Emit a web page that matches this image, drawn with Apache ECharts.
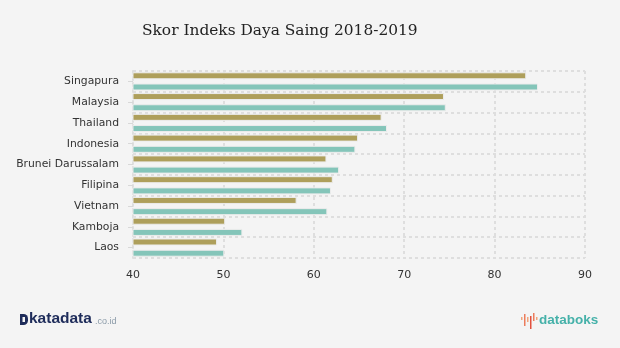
<!DOCTYPE html>
<html>
<head>
<meta charset="utf-8">
<script src="https://cdn.jsdelivr.net/npm/echarts@6/dist/echarts.min.js"></script>
<style>
  html, body { margin: 0; padding: 0; background: #f4f4f4; }
  #chart { width: 620px; height: 348px; }
</style>
</head>
<body>
<div id="chart"></div>
<script>
// Competitiveness index scores, ASEAN countries
const countries = ['Singapura', 'Malaysia', 'Thailand', 'Indonesia', 'Brunei Darussalam', 'Filipina', 'Vietnam', 'Kamboja', 'Laos'];
const score2018 = [83.5, 74.4, 67.5, 64.9, 61.4, 62.1, 58.1, 50.2, 49.3];
const score2019 = [84.8, 74.6, 68.1, 64.6, 62.8, 61.9, 61.5, 52.1, 50.1];
const xTicks = [40, 50, 60, 70, 80, 90];

const gridLine = { color: '#dedede', width: 2, type: [3, 3] };

const chart = echarts.init(document.getElementById('chart'), null, { renderer: 'canvas' });
chart.setOption({
  backgroundColor: '#f4f4f4',
  animation: false,
  title: {
    text: 'Skor Indeks Daya Saing 2018-2019',
    left: 137,
    top: 18,
    textStyle: { fontFamily: 'DejaVu Serif', fontWeight: 'normal', fontSize: 15.4, color: '#222' }
  },
  grid: { left: 133, right: 35, top: 71, bottom: 90 },
  xAxis: {
    type: 'value',
    min: xTicks[0],
    max: xTicks[xTicks.length - 1],
    interval: 10,
    axisLine: { show: false },
    axisTick: { show: false },
    axisLabel: { fontFamily: 'DejaVu Sans', fontSize: 11, color: '#333', margin: 12 },
    splitLine: { show: true, lineStyle: gridLine }
  },
  yAxis: {
    type: 'category',
    data: countries,
    inverse: true,
    axisLine: { show: true, lineStyle: gridLine },
    axisTick: { show: true, alignWithLabel: true, length: 5, lineStyle: { color: '#d8d8d8', width: 1 } },
    axisLabel: { fontFamily: 'DejaVu Sans', fontSize: 10.8, color: '#333', margin: 14 },
    splitLine: { show: true, lineStyle: gridLine }
  },
  series: [
    {
      name: '2018',
      type: 'bar',
      data: score2018,
      barWidth: 7,
      barGap: '60%',
      itemStyle: { color: '#ae9f5b', borderColor: '#ececec', borderWidth: 1 }
    },
    {
      name: '2019',
      type: 'bar',
      data: score2019,
      barWidth: 7,
      barGap: '60%',
      itemStyle: { color: '#84c5b9', borderColor: '#ececec', borderWidth: 1 }
    }
  ],
  graphic: [
    // katadata mark: a blocky "D"
    { type: 'rect', left: 20, top: 314, shape: { width: 8, height: 11, r: [0, 4.5, 4.5, 0] }, style: { fill: '#1e2c5a' } },
    { type: 'rect', left: 22.5, top: 317, shape: { width: 2.5, height: 5 }, style: { fill: '#f4f4f4' } },
    { type: 'text', left: 29, top: 311, style: { text: 'katadata', font: 'bold 15.5px "Liberation Sans"', fill: '#1e2c5a' } },
    { type: 'text', left: 95, top: 317, style: { text: '.co.id', font: '9px "Liberation Sans"', fill: '#8a9aa8' } },
    // databoks mark: small bars
    { type: 'rect', left: 521, top: 317, shape: { width: 1.5, height: 3 }, style: { fill: '#f2a47a' } },
    { type: 'rect', left: 524, top: 314, shape: { width: 1.5, height: 12 }, style: { fill: '#ec7c5c' } },
    { type: 'rect', left: 527, top: 317, shape: { width: 1.5, height: 5 }, style: { fill: '#f2a47a' } },
    { type: 'rect', left: 530, top: 316, shape: { width: 1.5, height: 13 }, style: { fill: '#e2503e' } },
    { type: 'rect', left: 533, top: 313, shape: { width: 1.5, height: 8 }, style: { fill: '#ec7c5c' } },
    { type: 'rect', left: 536, top: 317, shape: { width: 1.5, height: 3 }, style: { fill: '#f2a47a' } },
    { type: 'text', left: 539, top: 313, style: { text: 'databoks', font: 'bold 13.5px "Liberation Sans"', fill: '#45b1a9' } }
  ]
});
</script>
</body>
</html>
